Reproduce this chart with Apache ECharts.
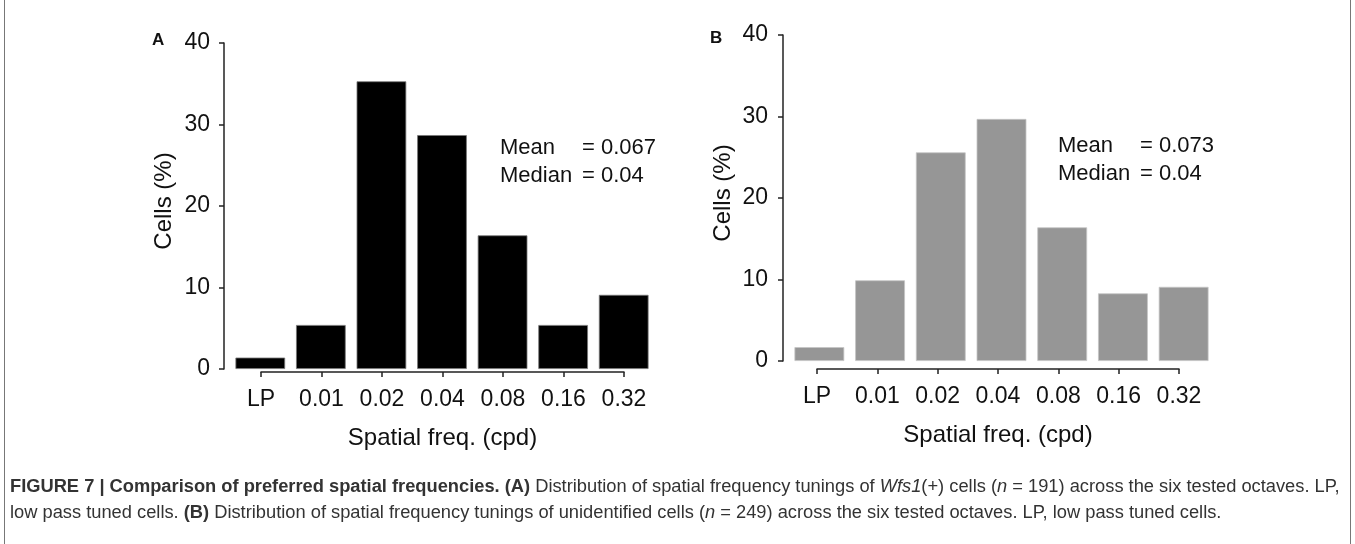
<!DOCTYPE html>
<html><head><meta charset="utf-8">
<script src="https://cdn.jsdelivr.net/npm/echarts@6/dist/echarts.min.js"></script>
<style>html,body{margin:0;padding:0;background:#fff}#c{width:1355px;height:544px}</style>
</head><body><div id="c"></div>
<script>
// ---- data ----
const categories = ['LP', '0.01', '0.02', '0.04', '0.08', '0.16', '0.32'];
const valuesA = [1.4, 5.4, 35.3, 28.7, 16.4, 5.4, 9.1];
const valuesB = [1.7, 9.9, 25.6, 29.7, 16.4, 8.3, 9.1];
const yMin = 0, yMax = 40, yStep = 10;
const panelLabels = ['A', 'B'];
const statsA = [['Mean', '= 0.067'], ['Median', '= 0.04']];
const statsB = [['Mean', '= 0.073'], ['Median', '= 0.04']];
const yName = 'Cells (%)';
const xName = 'Spatial freq. (cpd)';
const captionLine1 = [
  ['b', 'FIGURE 7 | Comparison of preferred spatial frequencies. (A)'],
  ['r', ' Distribution of spatial frequency tunings of '],
  ['i', 'Wfs1'],
  ['r', '(+) cells ('],
  ['i', 'n'],
  ['r', ' = 191) across the six tested octaves. LP,']
];
const captionLine2 = [
  ['r', 'low pass tuned cells. '],
  ['b', '(B)'],
  ['r', ' Distribution of spatial frequency tunings of unidentified cells ('],
  ['i', 'n'],
  ['r', ' = 249) across the six tested octaves. LP, low pass tuned cells.']
];

// ---- style ----
const FONT = '"Liberation Sans", Arial, Helvetica, sans-serif';
const AX = '#222';
const chart = echarts.init(document.getElementById('c'), null, {renderer: 'canvas'});

const richJoin = parts => parts.map(p => '{' + p[0] + '|' + p[1] + '}').join('');
const capFont = 18.3;
const capRich = {
  b: {fontFamily: FONT, fontSize: capFont, fontWeight: 'bold', color: '#222'},
  r: {fontFamily: FONT, fontSize: capFont, color: '#333'},
  i: {fontFamily: FONT, fontSize: capFont, fontStyle: 'italic', color: '#333'}
};
const statsText = s => s.map(r => '{k|' + r[0] + '}{v|' + r[1] + '}').join('\n');
const statsRich = {
  k: {fontFamily: FONT, fontSize: 22, width: 82, color: '#111', lineHeight: 28},
  v: {fontFamily: FONT, fontSize: 22, color: '#111', lineHeight: 28}
};

function barAxisX(gi) {
  return {gridIndex: gi, type: 'category', data: categories, show: false};
}
function tickAxisX(gi) {
  return {
    gridIndex: gi, type: 'category', data: categories, boundaryGap: false,
    axisLine: {show: true, lineStyle: {color: AX, width: 1.5}},
    axisTick: {show: true, length: 5, lineStyle: {color: AX, width: 1.5}},
    axisLabel: {interval: 0, fontSize: 23, fontFamily: FONT, color: '#111', margin: 16},
    name: xName, nameLocation: 'middle', nameGap: 54,
    nameTextStyle: {fontSize: 24, fontFamily: FONT, color: '#111'}
  };
}
function valAxisY(gi, margin) {
  return {
    gridIndex: gi, type: 'value', min: yMin, max: yMax, interval: yStep, offset: 6,
    axisLine: {show: true, lineStyle: {color: AX, width: 1.5}},
    axisTick: {show: true, length: 5, lineStyle: {color: AX, width: 1.5}},
    splitLine: {show: false},
    axisLabel: {fontSize: 23, fontFamily: FONT, color: '#111', margin: margin},
    name: yName, nameLocation: 'middle', nameGap: 48, nameRotate: 90,
    nameTextStyle: {fontSize: 24, fontFamily: FONT, color: '#111', padding: [0, 0, 0, 10]}
  };
}
function hiddenY(gi) {
  return {gridIndex: gi, type: 'value', show: false, min: 0, max: 1};
}

const option = {
  backgroundColor: '#fff',
  animation: false,
  grid: [
    {left: 230, top: 43, width: 424, height: 326},
    {left: 261, top: 371, width: 363, height: 1},
    {left: 789, top: 35, width: 425, height: 326},
    {left: 817, top: 368, width: 362, height: 1}
  ],
  xAxis: [barAxisX(0), tickAxisX(1), barAxisX(2), tickAxisX(3)],
  yAxis: [valAxisY(0, 14), hiddenY(1), valAxisY(2, 15), hiddenY(3)],
  series: [
    {type: 'bar', xAxisIndex: 0, yAxisIndex: 0, data: valuesA, barCategoryGap: '18%',
     itemStyle: {color: '#000', borderColor: '#777', borderWidth: 0.8}},
    {type: 'bar', xAxisIndex: 2, yAxisIndex: 2, data: valuesB, barCategoryGap: '18%',
     itemStyle: {color: '#969696', borderColor: '#c4c4c4', borderWidth: 0.8}}
  ],
  graphic: [
    {type: 'rect', silent: true, shape: {x: 4.5, y: -5, width: 1346, height: 560},
     style: {fill: 'none', stroke: '#777', lineWidth: 1}},
    {type: 'text', x: 152, y: 40, style: {text: panelLabels[0], fontFamily: FONT, fontSize: 17, fontWeight: 'bold', fill: '#111', verticalAlign: 'middle'}},
    {type: 'text', x: 710, y: 38, style: {text: panelLabels[1], fontFamily: FONT, fontSize: 17, fontWeight: 'bold', fill: '#111', verticalAlign: 'middle'}},
    {type: 'text', x: 500, y: 134, style: {text: statsText(statsA), rich: statsRich, fontFamily: FONT, fontSize: 22, fill: '#111', verticalAlign: 'top'}},
    {type: 'text', x: 1058, y: 132, style: {text: statsText(statsB), rich: statsRich, fontFamily: FONT, fontSize: 22, fill: '#111', verticalAlign: 'top'}},
    {type: 'text', x: 10, y: 487, style: {text: richJoin(captionLine1), rich: capRich, fontFamily: FONT, fontSize: capFont, fill: '#333', verticalAlign: 'middle'}},
    {type: 'text', x: 10, y: 513, style: {text: richJoin(captionLine2), rich: capRich, fontFamily: FONT, fontSize: capFont, fill: '#333', verticalAlign: 'middle'}}
  ]
};
chart.setOption(option);
</script>
</body></html>
